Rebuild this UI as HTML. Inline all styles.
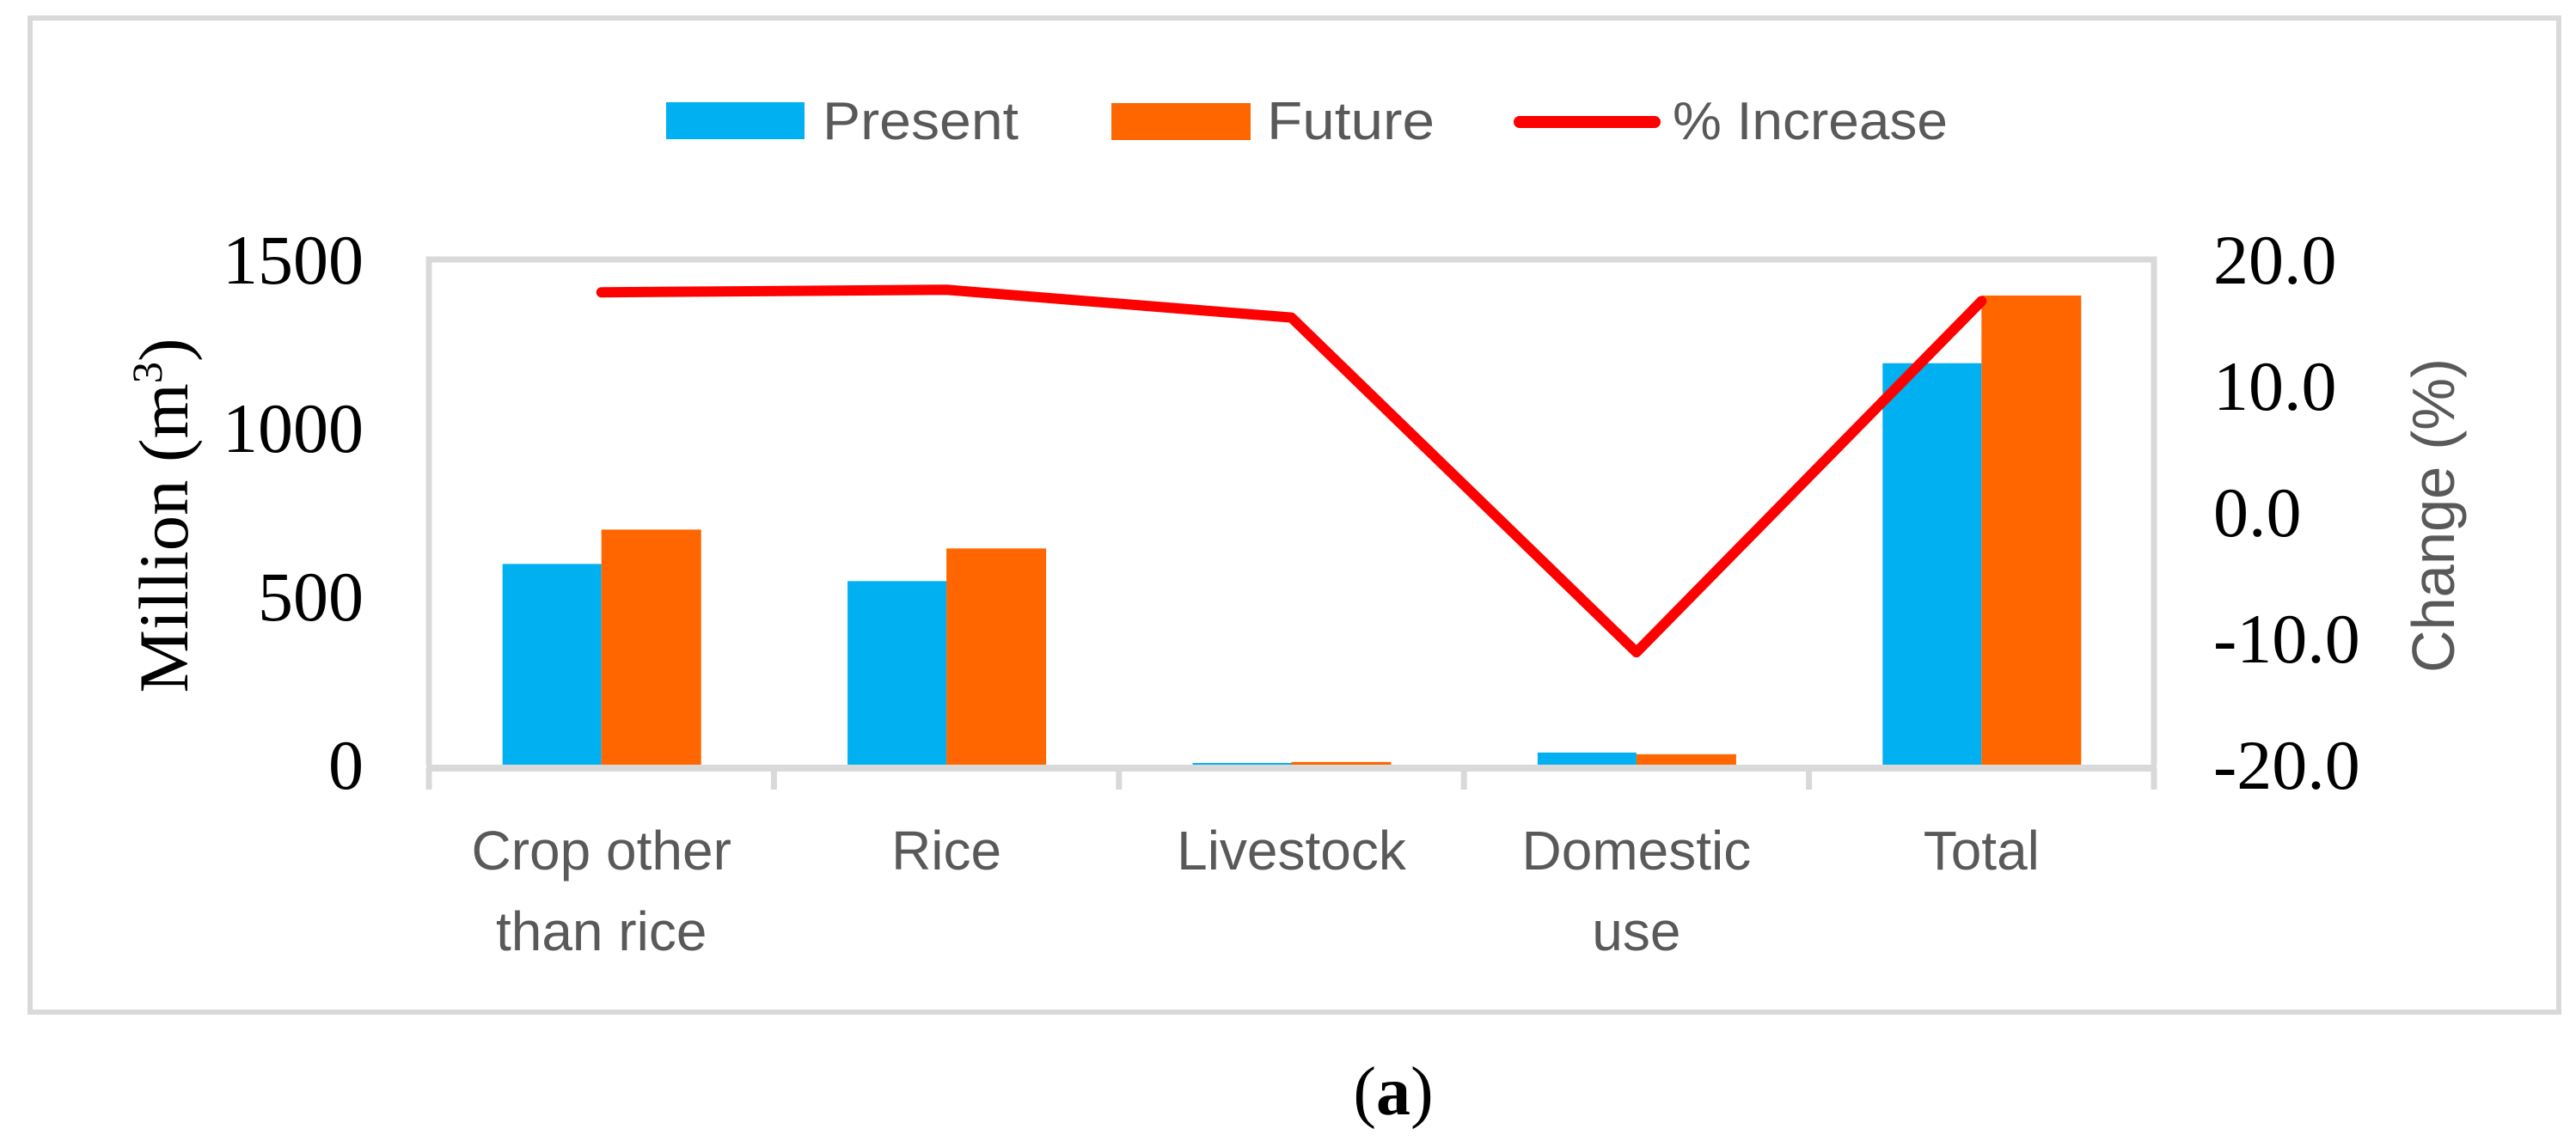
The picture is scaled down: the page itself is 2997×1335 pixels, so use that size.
<!DOCTYPE html>
<html><head><meta charset="utf-8"><style>
html,body{margin:0;padding:0;background:#fff;width:2997px;height:1335px;overflow:hidden}
svg{display:block}
</style></head><body>
<svg id="chart" width="2997" height="1335" viewBox="0 0 2997 1335" xmlns="http://www.w3.org/2000/svg">
<rect x="35" y="21" width="2942" height="1157" fill="#fff" stroke="#d9d9d9" stroke-width="6"/>
<g id="grid"></g>
<g id="bars"></g>
<g id="axes"></g>
<g id="line"></g>
<g id="labels"></g>
<g>
  <rect x="775" y="119" width="161" height="43" fill="#00b0f0"/>
  <text x="957" y="162" font-family="Liberation Sans, sans-serif" font-size="62" fill="#595959" textLength="228" lengthAdjust="spacingAndGlyphs">Present</text>
  <rect x="1293" y="120" width="162" height="43" fill="#ff6600"/>
  <text x="1474" y="162" font-family="Liberation Sans, sans-serif" font-size="62" fill="#595959" textLength="195" lengthAdjust="spacingAndGlyphs">Future</text>
  <line x1="1768" y1="142" x2="1925" y2="142" stroke="#ff0000" stroke-width="14" stroke-linecap="round"/>
  <text x="1946" y="162" font-family="Liberation Sans, sans-serif" font-size="62" fill="#595959" textLength="320" lengthAdjust="spacingAndGlyphs">% Increase</text>
</g>
<text transform="translate(218,600) rotate(-90)" text-anchor="middle" font-family="Liberation Serif, serif" font-size="82" fill="#000" textLength="413" lengthAdjust="spacingAndGlyphs">Million (m<tspan font-size="50" dy="-30">3</tspan><tspan dy="30">)</tspan></text>
<text transform="translate(2855,600) rotate(-90)" text-anchor="middle" font-family="Liberation Sans, sans-serif" font-size="70" fill="#595959" textLength="366" lengthAdjust="spacingAndGlyphs">Change (%)</text>
<text x="1621" y="1297" text-anchor="middle" font-family="Liberation Serif, serif" font-size="80" fill="#000">(<tspan font-weight="bold">a</tspan>)</text>
</svg>
<script>
const categories = [["Crop other","than rice"],["Rice"],["Livestock"],["Domestic","use"],["Total"]];
const presentValues = [596, 545, 5, 36, 1192];
const futureValues = [698, 642, 8, 31, 1393];
const increaseValues = [17.4, 17.6, 15.4, -11.1, 16.7];
const leftTicks = [0, 500, 1000, 1500];
const rightTicks = [-20, -10, 0, 10, 20];
const rightTickLabels = ["-20.0","-10.0","0.0","10.0","20.0"];

const NS = "http://www.w3.org/2000/svg";
const plotL = 499, plotR = 2506, plotT = 302, plotB = 890;
const yL = v => plotB - (v - 0) / 1500 * (plotB - plotT);
const yR = v => plotB - (v + 20) / 40 * (plotB - plotT);
const catW = (plotR - plotL) / categories.length;
const xC = i => plotL + catW * (i + 0.5);
const barW = 115;
function mk(tag, attrs, parent) {
  const e = document.createElementNS(NS, tag);
  for (const k in attrs) e.setAttribute(k, attrs[k]);
  parent.appendChild(e);
  return e;
}
const bars = document.getElementById('bars');
const axes = document.getElementById('axes');
const labels = document.getElementById('labels');
const lineG = document.getElementById('line');

// plot frame (left, top, right) and x axis
let fr = mk('path', {d: `M${plotL},${plotB} V${plotT} H${plotR} V${plotB}`, fill: 'none', stroke: '#d9d9d9', 'stroke-width': 7}, axes);



categories.forEach((c, i) => {
  const x = xC(i);
  let b1 = mk('rect', {x: x - barW, y: yL(presentValues[i]), width: barW, height: plotB - yL(presentValues[i]), fill: '#00b0f0'}, bars);
  
  
  let b2 = mk('rect', {x: x, y: yL(futureValues[i]), width: barW + 1, height: plotB - yL(futureValues[i]), fill: '#ff6600'}, bars);
  
  
  const t = mk('text', {x: x, 'text-anchor': 'middle', 'font-family': 'Liberation Sans, sans-serif', 'font-size': 64, fill: '#595959'}, labels);
  
  
  c.forEach((ln, j) => {
    const ts = mk('tspan', {x: x, y: 1012 + j * 94}, t);
    ts.textContent = ln;
  });
});

let xa = mk('line', {x1: plotL - 3, y1: 894, x2: plotR + 3, y2: 894, stroke: '#d9d9d9', 'stroke-width': 8}, axes);


for (let i = 0; i <= categories.length; i++) {
  const x = plotL + catW * i;
  let tk = mk('line', {x1: x, y1: 894, x2: x, y2: 919, stroke: '#d9d9d9', 'stroke-width': 7}, axes);
  
  
}

leftTicks.forEach(v => {
  let t = mk('text', {x: 423, y: yL(v) + 28, 'text-anchor': 'end', 'font-family': 'Liberation Serif, serif', 'font-size': 82, fill: '#000'}, labels);
  
  
  t.textContent = v;
});
rightTicks.forEach((v, i) => {
  let t = mk('text', {x: 2575, y: yR(v) + 28, 'font-family': 'Liberation Serif, serif', 'font-size': 82, fill: '#000'}, labels);
  
  
  t.textContent = rightTickLabels[i];
});

const pts = increaseValues.map((v, i) => `${xC(i)},${yR(v)}`).join(' ');
let pl = mk('polyline', {points: pts, fill: 'none', stroke: '#ff0000', 'stroke-width': 12, 'stroke-linecap': 'round', 'stroke-linejoin': 'round'}, lineG);


</script>
</body></html>
